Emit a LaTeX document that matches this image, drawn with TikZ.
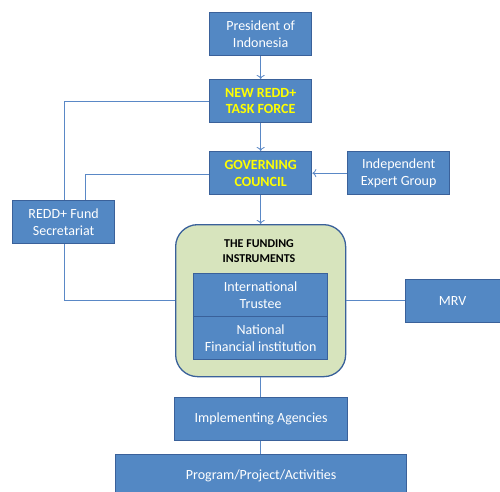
\documentclass[tikz,border=0pt]{standalone}
\usepackage{fontspec}
\setmainfont{Carlito}
\usetikzlibrary{arrows.meta}
\definecolor{boxfill}{HTML}{5388C4}
\definecolor{boxline}{HTML}{3A619A}
\definecolor{conn}{HTML}{5A88C6}
\definecolor{greenfill}{HTML}{D7E4BD}
\definecolor{ytext}{HTML}{FFFF00}
\tikzset{
  bluebox/.style={draw=boxline, line width=1.3pt, fill=boxfill, text=white, align=center,
    font=\fontsize{14}{16.7}\selectfont, inner sep=0pt, anchor=north west},
  conline/.style={draw=conn, line width=0.8pt},
  arr/.style={conline, -{To[length=4pt,width=8pt]}}
}
\begin{document}
\begin{tikzpicture}[x=1pt,y=-1pt]
\useasboundingbox (0,0) rectangle (500,491);
\clip (0,0) rectangle (500,491);
% boxes
\node[bluebox, minimum width=102pt, minimum height=43pt] (pres) at (209,12) {President of\\Indonesia};
\node[bluebox, minimum width=102pt, minimum height=43pt, text=ytext, font=\fontsize{14}{16.7}\selectfont\bfseries] (task) at (209,79) {NEW REDD+\\TASK FORCE};
\node[bluebox, minimum width=102pt, minimum height=43pt, text=ytext, font=\fontsize{14}{16.7}\selectfont\bfseries] (gov) at (209,151) {GOVERNING\\COUNCIL};
\node[bluebox, minimum width=102pt, minimum height=43pt] (ieg) at (347,151) {Independent\\Expert Group};
\node[bluebox, minimum width=102pt, minimum height=43pt] (sec) at (12,200) {REDD+ Fund\\Secretariat};
\node[draw=boxline, line width=1.3pt, fill=greenfill, rounded corners=22pt, minimum width=170pt, minimum height=152pt, anchor=north west, inner sep=0pt] (fund) at (175,224) {};
\node[font=\fontsize{12}{14.3}\selectfont\bfseries, align=center, text=black, inner sep=0pt] (ftitle) at (259,251) {THE FUNDING\\INSTRUMENTS};
\node[bluebox, minimum width=134pt, minimum height=43pt] (trust) at (193,273) {International\\Trustee};
\node[bluebox, minimum width=134pt, minimum height=43pt] (nat) at (193,316) {National\\Financial institution};
\node[bluebox, minimum width=100pt, minimum height=43pt] (mrv) at (405,279) {\hspace*{-6pt}MRV};
\node[bluebox, minimum width=173pt, minimum height=43pt] (impl) at (174,397) {Implementing Agencies};
\node[bluebox, minimum width=291pt, minimum height=43pt] (prog) at (115,454) {Program/Project/Activities};
% connectors
\coordinate (k1) at (64,101);
\coordinate (k2) at (85,174);
\coordinate (k3) at (64,300);
\draw[arr] (pres.south) -- (task.north);
\draw[arr] (task.south) -- (gov.north);
\draw[arr] (gov.south) -- (gov.south |- fund.north);
\draw[arr] (ieg.west) -- (gov.east);
\draw[conline] (task.west |- k1) -- (k1) -- (k1 |- sec.north);
\draw[conline] (gov.west |- k2) -- (k2) -- (k2 |- sec.north);
\draw[conline] (k3 |- sec.south) -- (k3) -- (fund.west |- k3);
\draw[conline] (fund.east |- k3) -- (mrv.west |- k3);
\draw[conline] (fund.south -| gov.south) -- (impl.north -| gov.south);
\draw[conline] (impl.south -| gov.south) -- (prog.north -| gov.south);
\end{tikzpicture}
\end{document}
